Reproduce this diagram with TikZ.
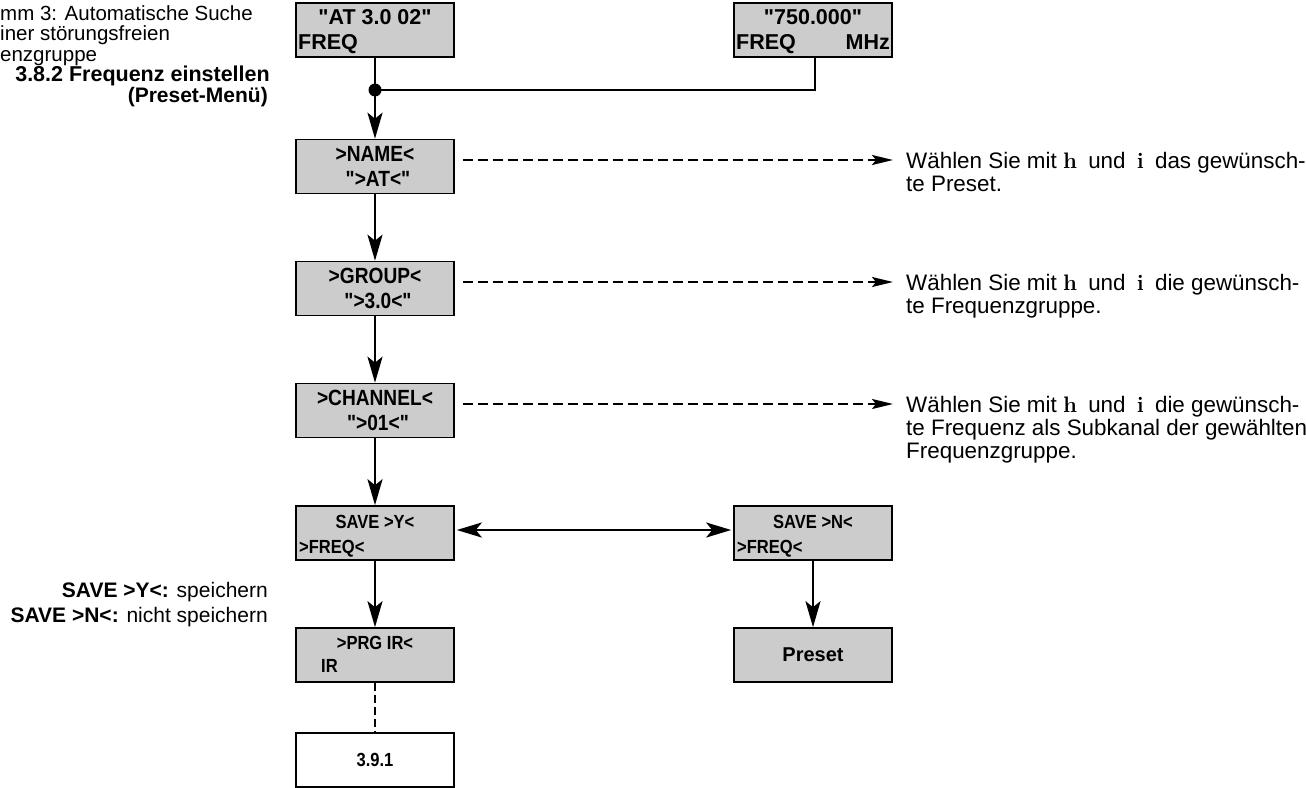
\documentclass[tikz,border=0pt]{standalone}
\usepackage{fontspec}
\setsansfont{Liberation Sans}
\newfontfamily\boxfont{Liberation Sans}
\newfontfamily\condfont[FakeStretch=0.87]{Liberation Sans}
\usetikzlibrary{arrows.meta}
\definecolor{boxgray}{RGB}{204,204,204}
\begin{document}
\begin{tikzpicture}[x=1pt,y=-1pt,
  box/.style={draw=black, line width=1.6pt, fill=boxgray, minimum width=158pt, minimum height=54pt, inner sep=0pt},
  wbox/.style={box, fill=white},
  bt/.style={font=\boxfont\bfseries\fontsize{21.5}{21.5}\selectfont, inner sep=0pt},
  mt/.style={font=\condfont\bfseries\fontsize{22}{22}\selectfont, inner sep=0pt},
  ct/.style={font=\condfont\bfseries\fontsize{19}{19}\selectfont, inner sep=0pt},
  rt/.style={font=\sffamily\fontsize{22.4}{23}\selectfont, inner sep=0pt, anchor=base west},
  lt/.style={font=\sffamily\fontsize{21}{22}\selectfont, inner sep=0pt},
  tt/.style={font=\sffamily\fontsize{20.5}{21}\selectfont, inner sep=0pt},
  flow/.style={line width=2.6pt, -{Stealth[length=26pt,width=15pt,inset=6pt]}},
  both/.style={line width=2.6pt, {Stealth[length=25pt,width=15pt,inset=6pt]}-{Stealth[length=25pt,width=15pt,inset=6pt]}, shorten <=2pt, shorten >=2pt},
  dasharrow/.style={line width=2.2pt, dash pattern=on 10pt off 5pt, -{Stealth[length=21pt,width=10pt,inset=4pt]}},
  plain/.style={line width=2.4pt}
]
\useasboundingbox (0,0) rectangle (1306,787);
\clip (0,0) rectangle (1306,787);

% boxes
\node[box] (b1) at (375,30) {};
\node[box] (b2) at (813,30) {};
\node[box] (bname) at (375,166.5) {};
\node[box] (bgroup) at (375,288.5) {};
\node[box] (bchan) at (375,410.5) {};
\node[box] (bsavey) at (375,533) {};
\node[box] (bsaven) at (813,533) {};
\node[box] (bprg) at (375,655) {};
\node[box] (bpreset) at (813,655) {};
\node[wbox] (b391) at (375,760) {};

% box texts
\node[bt, anchor=base] (t1a) at (375,24) {"AT 3.0 02"};
\node[bt, anchor=base west] (t1b) at (298,49) {FREQ};
\node[bt, anchor=base] (t2a) at (813,24) {"750.000"};
\node[bt, anchor=base west] (t2b) at (736,49) {FREQ};
\node[bt, anchor=base east] (t2c) at (890,49) {MHz};
\node[mt, anchor=base] (tna) at (375,161) {>NAME<};
\node[mt, anchor=base] (tnb) at (378,186) {">AT<"};
\node[mt, anchor=base] (tga) at (375,283) {>GROUP<};
\node[mt, anchor=base] (tgb) at (378,308) {">3.0<"};
\node[mt, anchor=base] (tca) at (375,405) {>CHANNEL<};
\node[mt, anchor=base] (tcb) at (378,430) {">01<"};
\node[ct, anchor=base] (tya) at (375,528) {SAVE >Y<};
\node[ct, anchor=base west] (tyb) at (299,553) {>FREQ<};
\node[ct, anchor=base] (txa) at (813,528) {SAVE >N<};
\node[ct, anchor=base west] (txb) at (737,553) {>FREQ<};
\node[ct, anchor=base] (tpa) at (375,649) {>PRG IR<};
\node[ct, anchor=base west] (tpb) at (321,672) {IR};
\node[bt, anchor=base, font=\boxfont\bfseries\fontsize{20}{20}\selectfont] (tps) at (813,661) {Preset};
\node[ct, anchor=base] (t391) at (375,766) {3.9.1};

% junction
\node[circle, fill=black, minimum size=13pt, inner sep=0pt] (dot) at (375,90) {};

% connectors
\draw[plain] ([xshift=2pt]b2.south) |- (dot.center);
\draw[flow] (b1) -- (bname);
\draw[flow] (bname) -- (bgroup);
\draw[flow] (bgroup) -- (bchan);
\draw[flow] (bchan) -- (bsavey);
\draw[flow] (bsavey) -- (bprg);
\draw[flow] (bsaven) -- (bpreset);
\draw[both] ([yshift=3pt]bsavey.east) -- ([yshift=3pt]bsaven.west);
\draw[line width=2.2pt, dash pattern=on 8pt off 4pt] (bprg) -- (b391);

\coordinate (ea) at (893,160);
\coordinate (eb) at (893,282);
\coordinate (ec) at (893,404);
\draw[dasharrow, shorten <=8pt] (bname.east |- ea) -- (ea);
\draw[dasharrow, shorten <=8pt] (bgroup.east |- eb) -- (eb);
\draw[dasharrow, shorten <=8pt] (bchan.east |- ec) -- (ec);

% right texts
\node[rt] (ra1) at (906,168) {Wählen Sie mit {\rmfamily\bfseries h}\enspace und\enspace {\rmfamily\bfseries i}\enspace das gewünsch-};
\node[rt] (ra2) at (906,191) {te Preset.};
\node[rt] (rb1) at (906,290) {Wählen Sie mit {\rmfamily\bfseries h}\enspace und\enspace {\rmfamily\bfseries i}\enspace die gewünsch-};
\node[rt] (rb2) at (906,313) {te Frequenzgruppe.};
\node[rt] (rc1) at (906,412) {Wählen Sie mit {\rmfamily\bfseries h}\enspace und\enspace {\rmfamily\bfseries i}\enspace die gewünsch-};
\node[rt] (rc2) at (906,435) {te Frequenz als Subkanal der gewählten};
\node[rt] (rc3) at (906,458) {Frequenzgruppe.};

% left texts
\node[tt, anchor=base west] (la1) at (0,20) {mm 3: Automatische Suche};
\node[tt, anchor=base west] (la2) at (0,40.5) {iner störungsfreien};
\node[tt, anchor=base west] (la3) at (0,61) {enzgruppe};
\node[tt, anchor=base east, font=\sffamily\bfseries\fontsize{21.5}{22}\selectfont] (la4) at (270,81.5) {3.8.2 Frequenz einstellen};
\node[tt, anchor=base east, font=\sffamily\bfseries\fontsize{21}{22}\selectfont] (la5) at (268,102) {(Preset-Menü)};

\node[lt, anchor=base east] (lb1) at (268,597) {\textbf{SAVE >Y<:} speichern};
\node[lt, anchor=base east] (lb2) at (268,622) {\textbf{SAVE >N<:} nicht speichern};
\end{tikzpicture}
\end{document}
